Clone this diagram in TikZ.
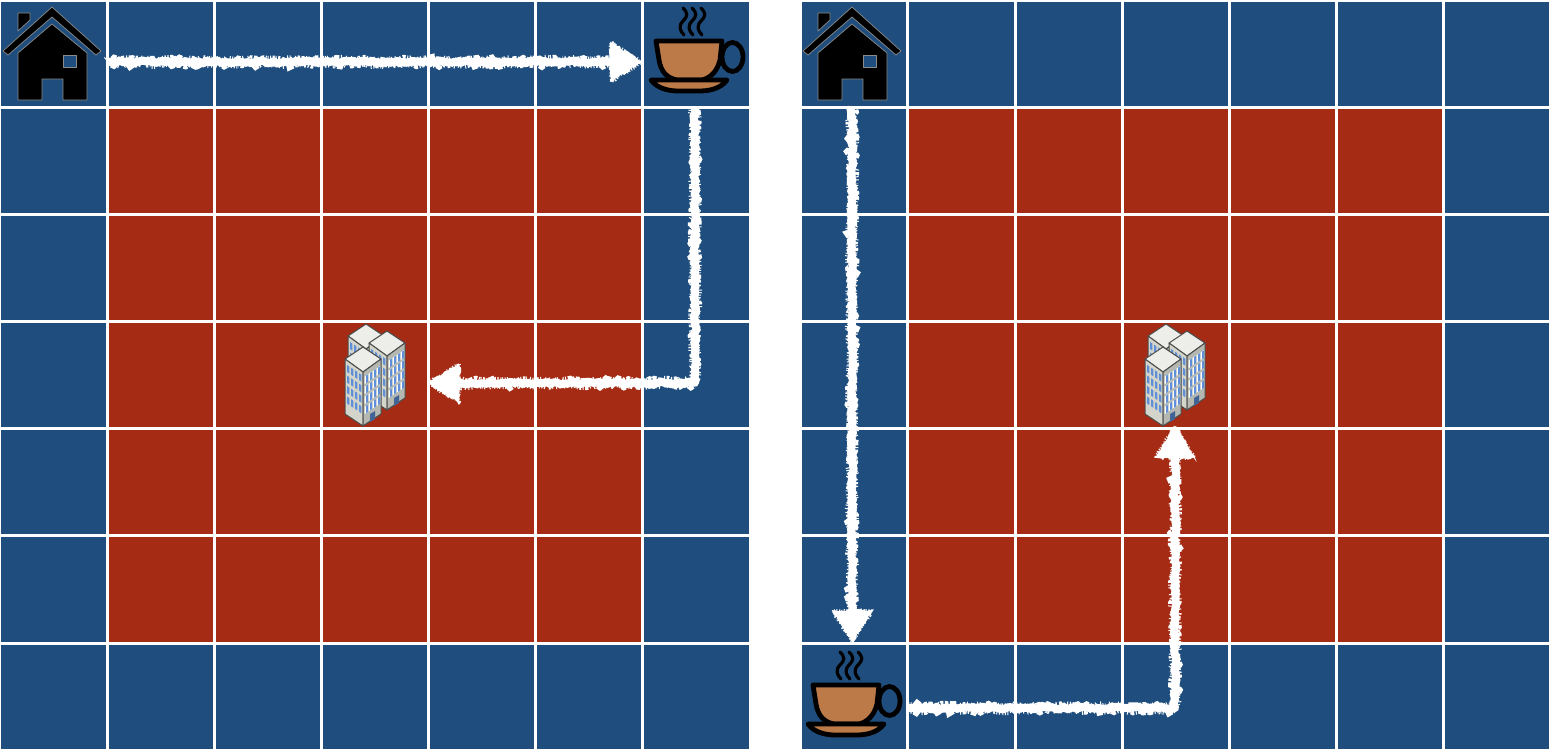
\documentclass[tikz,border=0pt]{standalone}
\usetikzlibrary{decorations.pathmorphing}
\definecolor{gridblue}{HTML}{1F4E7E}
\definecolor{gridred}{HTML}{A52B15}
\definecolor{cupbrown}{HTML}{BC7A48}
\definecolor{winblue}{HTML}{5F8FD8}
\definecolor{wallleft}{HTML}{D4D5CA}
\definecolor{wallright}{HTML}{B4B8B0}
\definecolor{roofgray}{HTML}{EDEEEA}
\newcommand{\chalk}[1]{\draw[chalkline] #1; \draw[chalkfuzz] #1;}
\newcommand{\chalkhd}[1]{\fill[white] #1; \draw[chalkhead] #1; \draw[chalkfuzzhead] #1;}
\tikzset{
  x=0.5pt,y=-0.5pt,
  cell/.style={minimum size=52.1pt,inner sep=0pt,outer sep=0pt,fill=#1},
  chalkbase/.style={decorate,decoration={random steps,segment length=1.3pt,amplitude=0.7pt}},
  chalkline/.style={chalkbase,draw=white,line width=4pt,line join=round},
  chalkfuzz/.style={chalkbase,draw=white,line width=5.8pt,dash pattern=on 0.5pt off 0.8pt},
  chalkhead/.style={chalkbase,fill=white,draw=white,line width=0.8pt},
  chalkfuzzhead/.style={chalkbase,draw=white,line width=1.6pt,dash pattern=on 0.5pt off 0.8pt},
  house/.pic={
    \begin{scope}[draw=black!45!white,line width=0.35pt,fill=black,line join=round]
    \filldraw (3,51) -- (52,7) -- (101,51) -- (96,55) -- (52,17) -- (8,55) -- cycle;
    \filldraw (18,53) -- (52,24) -- (87,53) -- (87,100) -- (63,100) -- (63,79) -- (42,79) -- (42,100) -- (18,100) -- cycle;
    \filldraw (18,13) -- (30,13) -- (30,20) -- (18,31) -- cycle;
    \filldraw[fill=gridblue] (63,55) rectangle (76,67);
    \end{scope}
  },
  cupicon/.pic={
    \begin{scope}[draw=black,line width=2.4pt,line join=round,line cap=round]
    \draw (732.5,57) ellipse [x radius=10.5,y radius=14.5];
    \filldraw[fill=cupbrown] (656,41) -- (722,41) -- (720,60) .. controls (717,72) and (710,78) .. (702,80) -- (677,80) .. controls (667,78) and (661,72) .. (659,60) -- cycle;
    \filldraw[fill=cupbrown] (651,80) -- (727,80) .. controls (722,87) and (712,91) .. (700,91) -- (678,91) .. controls (666,91) and (656,87) .. (651,80) -- cycle;
    \begin{scope}[line width=1.6pt]
    \foreach \sx in {0,9,18}{
      \draw (683+\sx,8) .. controls (688+\sx,13) and (688+\sx,16) .. (683+\sx,21) .. controls (678+\sx,26) and (680+\sx,31) .. (684+\sx,35);
    }
    \end{scope}
    \end{scope}
  },
  tower/.pic={
    \filldraw[fill=roofgray,draw=black!70,line width=0.5pt,line join=round] (-18,-13) -- (0,-25) -- (18,-13) -- (0,0) -- cycle;
    \filldraw[fill=wallleft,draw=black!70,line width=0.5pt,line join=round] (-18,-13) -- (0,0) -- (0,54) -- (-18,42) -- cycle;
    \filldraw[fill=wallright,draw=black!70,line width=0.5pt,line join=round] (18,-13) -- (0,0) -- (0,54) -- (18,42) -- cycle;
    \foreach \r in {0,1,2,3}{
      \foreach \c in {0,1,2,3}{
        \fill[winblue] (-16+4*\c,-7+2.7*\c+10.5*\r) -- ++(2.4,1.6) -- ++(0,7) -- ++(-2.4,-1.6) -- cycle;
        \fill[white] (1.6+4*\c,4.6-2.7*\c+10*\r) -- ++(3.6,-2.4) -- ++(0,7.4) -- ++(-3.6,2.4) -- cycle;
        \fill[winblue] (3+4*\c,3.8-2.7*\c+10*\r) -- ++(2.2,-1.5) -- ++(0,7.4) -- ++(-2.2,1.5) -- cycle;
      }
    }
    \fill[winblue!70!black] (7,42) -- (12,39) -- (12,47) -- (7,50) -- cycle;
  },
  building/.pic={
    \pic at (366,349) {tower};
    \pic at (387,356) {tower};
    \pic at (363,372) {tower};
  },
}
\begin{document}
\begin{tikzpicture}
\useasboundingbox (0,0) rectangle (1550,750);
\pgfmathsetseed{7}
\foreach \gname/\gx in {L/53.5,R/854.3}{
  \foreach \i in {0,...,6}{
    \foreach \j in {0,...,6}{
      \pgfmathtruncatemacro{\inner}{(\i>0)&&(\i<6)&&(\j>0)&&(\j<6)?1:0}
      \ifnum\inner=1\def\cc{gridred}\else\def\cc{gridblue}\fi
      \node[cell=\cc] (\gname-\i-\j) at ({\gx+107.17*\i},{53.6+107.17*\j}) {};
    }
  }
}
\pic at (0,0) {house};
\pic at (800,0) {house};
\pic at (0,0) {cupicon};
\pic at (157,644) {cupicon};
\pic at (0,0) {building};
\pic at (800,0) {building};
\coordinate (a1s) at (108,62);
\coordinate (a1t) at (641,62);
\coordinate (a2s) at (695,108);
\coordinate (a2c) at (695,383);
\coordinate (a2t) at (429,383);
\coordinate (b1s) at (852,108);
\coordinate (b1t) at (852,641);
\coordinate (b2s) at (908,708);
\coordinate (b2c) at (1175,708);
\coordinate (b2t) at (1175,427);
\chalk{(a1s) -- ([xshift=-12pt]a1t)}
\chalk{(a2s) -- (a2c) -- ([xshift=12pt]a2t)}
\chalk{(b1s) -- ([yshift=12pt]b1t)}
\chalk{(b2s) -- (b2c) -- ([yshift=-12pt]b2t)}
\chalkhd{(a1t) -- ([xshift=-15pt,yshift=9.5pt]a1t) -- ([xshift=-15pt,yshift=-9.5pt]a1t) -- cycle}
\chalkhd{(a2t) -- ([xshift=15pt,yshift=9.5pt]a2t) -- ([xshift=15pt,yshift=-9.5pt]a2t) -- cycle}
\chalkhd{(b1t) -- ([xshift=-9.5pt,yshift=15pt]b1t) -- ([xshift=9.5pt,yshift=15pt]b1t) -- cycle}
\chalkhd{(b2t) -- ([xshift=-9.5pt,yshift=-15pt]b2t) -- ([xshift=9.5pt,yshift=-15pt]b2t) -- cycle}
\end{tikzpicture}
\end{document}
